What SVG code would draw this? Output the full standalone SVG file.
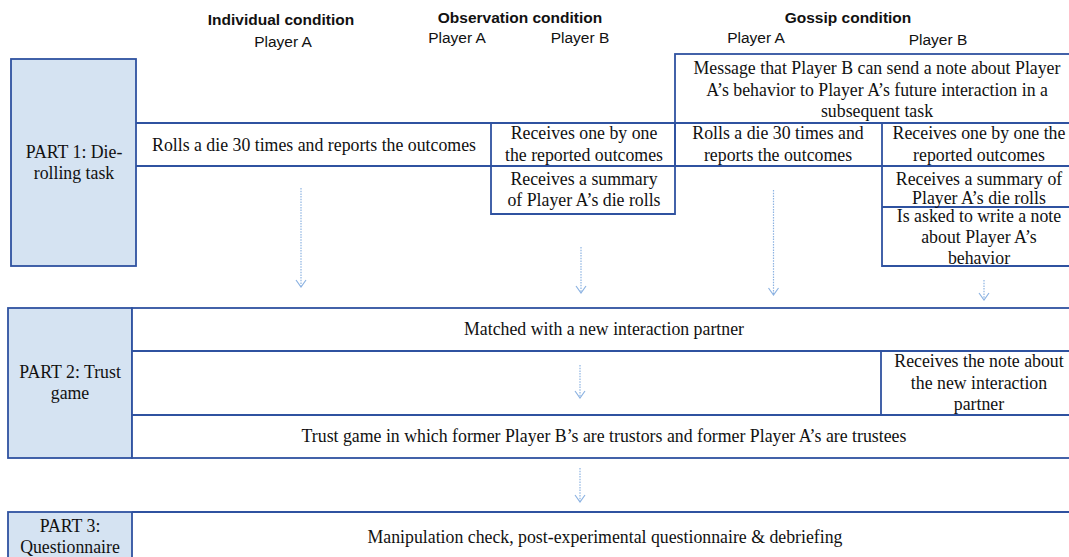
<svg xmlns="http://www.w3.org/2000/svg" width="1069" height="557" viewBox="0 0 1069 557">
<defs>
<style>
.ln{stroke:#2F52A0;stroke-width:1.8;fill:none}
.part{fill:#D5E3F2;stroke:#2F52A0;stroke-width:1.8}
.cell{fill:#fff;stroke:#2F52A0;stroke-width:1.8}
.t{font-family:"Liberation Serif","Times New Roman",serif;font-size:17.8px;fill:#111;text-anchor:middle}
.h{font-family:"Liberation Sans",Arial,sans-serif;font-size:15.5px;font-weight:bold;fill:#111;text-anchor:middle}
.p{font-family:"Liberation Sans",Arial,sans-serif;font-size:15.5px;fill:#111;text-anchor:middle}
.arr{stroke:#8DB3E2;stroke-width:1.2;stroke-dasharray:1.5 1.2;fill:none}
</style>
<marker id="ah" viewBox="0 0 10 12" refX="9" refY="6" markerWidth="10" markerHeight="12" markerUnits="userSpaceOnUse" orient="auto">
<path d="M2,1 L9,6 L2,11" fill="none" stroke="#8DB3E2" stroke-width="1.2"/>
</marker>
</defs>
<rect width="1069" height="557" fill="#fff"/>

<g id="headers">
<text class="h" x="281" y="25">Individual condition</text>
<text class="p" x="283" y="47">Player A</text>
<text class="h" x="520" y="23">Observation condition</text>
<text class="p" x="457" y="43">Player A</text>
<text class="p" x="580" y="43">Player B</text>
<text class="h" x="848" y="23">Gossip condition</text>
<text class="p" x="756" y="43">Player A</text>
<text class="p" x="938" y="45">Player B</text>
</g>

<g id="part1">
<rect class="part" x="11" y="59" width="125" height="207"/>
<text class="t" x="74" y="158">PART 1: Die-</text>
<text class="t" x="74" y="179">rolling task</text>
</g>

<g id="gossip-message">
<rect class="cell" x="675" y="54" width="410" height="69"/>
<text class="t" x="877" y="74">Message that Player B can send a note about Player</text>
<text class="t" x="877" y="96">A’s behavior to Player A’s future interaction in a</text>
<text class="t" x="877" y="117">subsequent task</text>
</g>

<g id="part1-row">
<line class="ln" x1="136" y1="123" x2="1069" y2="123"/>
<line class="ln" x1="136" y1="166" x2="1069" y2="166"/>
</g>

<g id="individual-A">
<text class="t" x="314" y="151">Rolls a die 30 times and reports the outcomes</text>
</g>

<g id="observation-B">
<polyline class="ln" points="491,123 491,214 675,214 675,123"/>
<text class="t" x="584" y="139">Receives one by one</text>
<text class="t" x="584" y="161">the reported outcomes</text>
<text class="t" x="584" y="185">Receives a summary</text>
<text class="t" x="584" y="206">of Player A’s die rolls</text>
</g>

<g id="gossip-A">
<line class="ln" x1="675" y1="123" x2="675" y2="166"/>
<text class="t" x="778" y="139">Rolls a die 30 times and</text>
<text class="t" x="778" y="161">reports the outcomes</text>
</g>

<g id="gossip-B">
<polyline class="ln" points="882,123 882,266 1085,266"/>
<line class="ln" x1="882" y1="207" x2="1069" y2="207"/>
<text class="t" x="979" y="139">Receives one by one the</text>
<text class="t" x="979" y="161">reported outcomes</text>
<text class="t" x="979" y="185">Receives a summary of</text>
<text class="t" x="979" y="204">Player A’s die rolls</text>
<text class="t" x="979" y="222">Is asked to write a note</text>
<text class="t" x="979" y="243">about Player A’s</text>
<text class="t" x="979" y="264">behavior</text>
</g>

<g id="part2">
<rect class="part" x="8" y="308" width="124" height="150"/>
<text class="t" x="70" y="378">PART 2: Trust</text>
<text class="t" x="70" y="399">game</text>
</g>

<g id="part2-rows">
<rect class="cell" x="132" y="308" width="960" height="150"/>
<line class="ln" x1="132" y1="351" x2="1069" y2="351"/>
<line class="ln" x1="132" y1="415" x2="1069" y2="415"/>
<line class="ln" x1="881" y1="351" x2="881" y2="415"/>
<text class="t" x="604" y="335">Matched with a new interaction partner</text>
<text class="t" x="979" y="367">Receives the note about</text>
<text class="t" x="979" y="389">the new interaction</text>
<text class="t" x="979" y="410">partner</text>
<text class="t" x="604" y="442">Trust game in which former Player B’s are trustors and former Player A’s are trustees</text>
</g>

<g id="part3">
<rect class="part" x="8" y="512" width="124" height="60"/>
<text class="t" x="70" y="532">PART 3:</text>
<text class="t" x="70" y="553">Questionnaire</text>
</g>

<g id="part3-row">
<line class="ln" x1="132" y1="512" x2="1069" y2="512"/>
<text class="t" x="605" y="543">Manipulation check, post-experimental questionnaire &amp; debriefing</text>
</g>

<g id="connectors">
<line class="arr" x1="301" y1="188" x2="301" y2="287" marker-end="url(#ah)"/>
<line class="arr" x1="581" y1="247" x2="581" y2="293" marker-end="url(#ah)"/>
<line class="arr" x1="773.5" y1="190" x2="773.5" y2="295" marker-end="url(#ah)"/>
<line class="arr" x1="984" y1="280" x2="984" y2="300" marker-end="url(#ah)"/>
<line class="arr" x1="580" y1="365" x2="580" y2="398" marker-end="url(#ah)"/>
<line class="arr" x1="580" y1="468" x2="580" y2="502" marker-end="url(#ah)"/>
</g>
</svg>
